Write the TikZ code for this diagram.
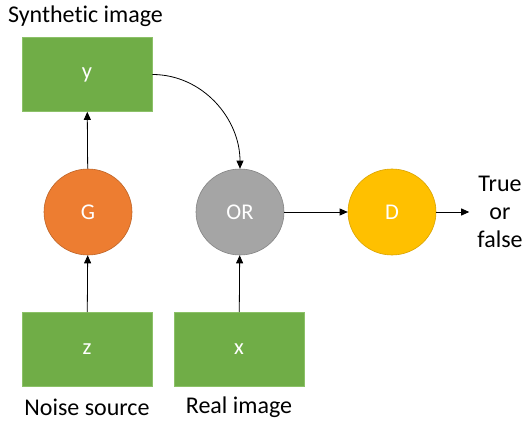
\documentclass[tikz,border=0pt]{standalone}
\usepackage{fontspec}
\setmainfont[Ligatures=NoCommon]{Carlito}
\usetikzlibrary{arrows.meta,shapes.geometric}
\definecolor{boxgreen}{HTML}{70AD47}
\definecolor{boxedge}{HTML}{8CC168}
\definecolor{genorange}{HTML}{ED7D31}
\definecolor{orgray}{HTML}{A5A5A5}
\definecolor{discgold}{HTML}{FFC000}
\begin{document}
\begin{tikzpicture}[x=1pt,y=-1pt,
  every node/.style={font=\fontsize{22.5}{28}\selectfont},
  box/.style={draw=boxedge, line width=0.6pt, fill=boxgreen, text=white,
    minimum width=130pt, minimum height=74pt, inner sep=0pt},
  blob/.style={ellipse, line width=0.6pt, text=white,
    minimum width=88pt, minimum height=86pt, inner sep=0pt},
  lbl/.style={font=\fontsize{24}{28}\selectfont, inner sep=0pt},
  arr/.style={line width=0.8pt, -{Triangle[length=8pt,width=7pt]}}]
\useasboundingbox (0,0) rectangle (527,422);

% data boxes
\node[box] (y) at (87,74.5) {y};
\node[box] (z) at (87,349.5) {z};
\node[box] (x) at (239,349.5) {x};

% generator, selector and discriminator
\node[blob, fill=genorange, draw=genorange!80!black] (G) at (88,212) {G};
\node[blob, fill=orgray, draw=orgray!80!black] (OR) at (240,212) {OR};
\node[blob, fill=discgold, draw=discgold!85!black] (D) at (392,212) {D};

% captions
\node[lbl] (syn) at (85.5,16) {Synthetic image};
\node[lbl] (noise) at (87,407) {Noise source};
\node[lbl] (real) at (239,407) {Real image};
\node[lbl, align=center, inner xsep=8pt] (tf) at (500,212) {True\\or\\false};

% connectors
\draw[arr] (z) -- (G);
\draw[arr] (G) -- (y);
\draw[arr] (x) -- (OR);
\draw[arr] (OR) -- (D);
\draw[arr] (D.east) -- (tf.west);
\draw[arr] (y.east) to[out=0,in=90] (OR.north);
\end{tikzpicture}
\end{document}
